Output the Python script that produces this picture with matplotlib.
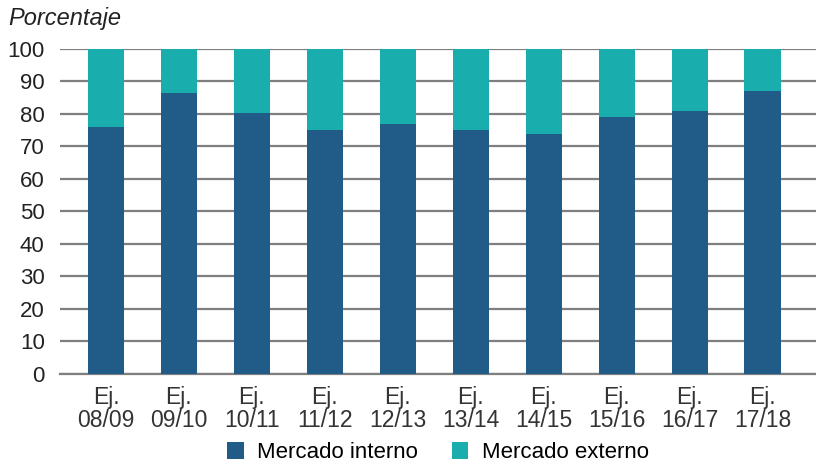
import matplotlib.pyplot as plt
import numpy as np

plt.rcParams['font.family'] = ['Liberation Sans', 'DejaVu Sans']

# Data (percentage)
periods = ['Ej.\n08/09', 'Ej.\n09/10', 'Ej.\n10/11', 'Ej.\n11/12', 'Ej.\n12/13',
           'Ej.\n13/14', 'Ej.\n14/15', 'Ej.\n15/16', 'Ej.\n16/17', 'Ej.\n17/18']
interno = [76.0, 86.5, 80.3, 75.1, 76.9, 75.1, 73.8, 79.1, 80.9, 87.1]
externo = [100 - v for v in interno]

c_int = '#215b88'
c_ext = '#19adad'

fig = plt.figure(figsize=(8.16, 4.65), dpi=100)
ax = fig.add_axes([0.0735, 0.196, 0.9265, 0.6986])

x = np.arange(len(periods))
ax.bar(x, interno, width=0.5, color=c_int, label='Mercado interno', zorder=3)
ax.bar(x, externo, width=0.5, bottom=interno, color=c_ext, label='Mercado externo', zorder=3)

ax.set_ylim(0, 100)
ax.set_xlim(-0.63, 9.73)
ax.set_yticks(range(0, 101, 10))
ax.yaxis.grid(True, color='#7f7f7f', linewidth=1.6, zorder=1)
ax.set_axisbelow(True)
for s in ['top', 'right', 'left']:
    ax.spines[s].set_visible(False)
ax.spines['bottom'].set_color('#7f7f7f')
ax.spines['bottom'].set_linewidth(1.6)

ax.set_xticks(x)
ax.set_xticklabels(periods, fontsize=16.5, color='#333333', linespacing=1.0)
ax.tick_params(axis='x', length=0, pad=9)
ax.tick_params(axis='y', length=0, pad=11, labelsize=16, labelcolor='#222222')

fig.text(0.01, 0.961, 'Porcentaje', fontsize=17, style='italic', color='#222222',
         va='center', ha='left')

ax.legend(loc='center', bbox_to_anchor=(0.5, -0.243), ncol=2, frameon=False,
          fontsize=16, handlelength=0.75, handleheight=0.75, columnspacing=1.5,
          handletextpad=0.6, borderpad=0.2)

fig.savefig('out.png', dpi=100)
